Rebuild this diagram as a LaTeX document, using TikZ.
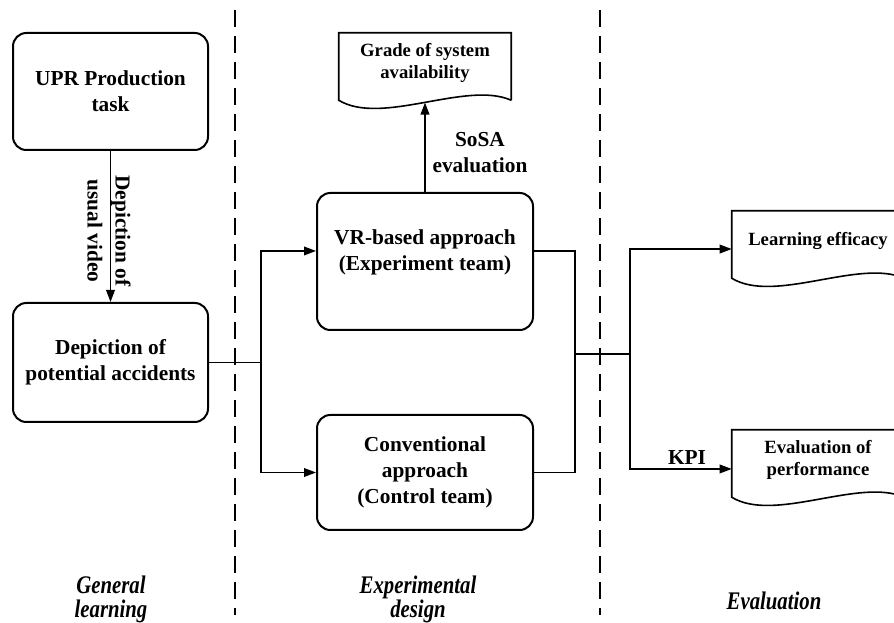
\documentclass[tikz,border=0pt]{standalone}
\usepackage{fontspec}
\setmainfont{Liberation Serif}
\usetikzlibrary{arrows.meta,calc}
\begin{document}
\begin{tikzpicture}[x=0.75pt,y=-0.75pt,
  box/.style={draw,line width=1.5pt,rounded corners=10pt,align=center,
    font=\fontsize{16}{19.5}\selectfont\bfseries,inner sep=0pt},
  conn/.style={line width=1.1pt},
  arr/.style={conn,-{Triangle[length=9pt,width=6.5pt]}},
  doc/.style={inner sep=0pt,minimum width=129pt,minimum height=50.25pt},
  docline/.style={line width=1.2pt},
  doctext/.style={align=center,font=\fontsize{14}{16.5}\selectfont\bfseries},
  lbl/.style={align=center,font=\fontsize{16}{19}\selectfont\bfseries},
  phase/.style={align=center,font=\fontsize{19}{18}\selectfont\bfseries\itshape},
  sep/.style={line width=1.5pt,dash pattern=on 12.75pt off 6.75pt}
]
\useasboundingbox (0,0) rectangle (894,623);
\clip (0,0) rectangle (894,623);

% separators
\draw[sep] (235,10) -- (235,615);
\draw[sep] (600,10) -- (600,615);

% boxes
\node[box,minimum width=146.25pt,minimum height=87.75pt] (upr) at (110.5,91.5) {UPR Production\\task};
\node[box,minimum width=146.25pt,minimum height=89.25pt] (dep) at (110.5,362.5) {Depiction of\\potential accidents};
\node[box,minimum width=162pt,minimum height=102.75pt] (vr) at (425,261.5) {};
\node[lbl,font=\fontsize{16}{19.5}\selectfont\bfseries] (vrt) at ([yshift=6.75pt]vr.center) {VR-based approach\\(Experiment team)};
\node[box,minimum width=162pt,minimum height=86.25pt] (conv) at (425,472.5) {Conventional\\approach\\(Control team)};

% documents
\node[doc] (grade) at (425,66.5) {};
\draw[docline] (grade.south east) -- (grade.north east) -- (grade.north west) -- (grade.south west)
  .. controls +(43,26) and +(-45,-20) .. (grade.south east);
\node[doctext] (gradet) at ([yshift=3pt]grade.center) {Grade of system\\availability};

\node[doc] (learn) at (818,244.5) {};
\draw[docline] (learn.south east) -- (learn.north east) -- (learn.north west) -- (learn.south west)
  .. controls +(43,26) and +(-45,-20) .. (learn.south east);
\node[doctext] (learnt) at ([yshift=3pt]learn.center) {Learning efficacy};

\node[doc] (eval) at (818,463.5) {};
\draw[docline] (eval.south east) -- (eval.north east) -- (eval.north west) -- (eval.south west)
  .. controls +(43,26) and +(-45,-20) .. (eval.south east);
\node[doctext] (evalt) at ([yshift=3pt]eval.center) {Evaluation of\\performance};

% connectors
\draw[arr] (upr) -- (dep);
\node[lbl,rotate=-90] (usual) at (109,231) {Depiction of\\[2pt]usual video};

\coordinate (split) at (261,362.5);
\draw[conn] (dep.east) -- (split);
\draw[arr] (split) |- ([yshift=7.9pt]vr.west);
\draw[arr] (split) |- (conv.west);

\draw[arr] (vr.north) -- ([yshift=-1.7pt]grade.south);
\node[lbl] (sosa) at (480,152.5) {SoSA\\evaluation};

\coordinate (merge) at (575,354);
\draw[conn] ([yshift=7.9pt]vr.east) -| (merge);
\draw[conn] (conv.east) -| (merge);
\coordinate (split2) at (630,354);
\draw[conn] (merge) -- (split2);
\draw[arr] (split2) |- ([yshift=-3.4pt]learn.west);
\draw[arr] (split2) |- ([yshift=-4.1pt]eval.west);
\node[lbl] (kpi) at (687,458) {KPI};

% phase labels
\node[phase] (ph1) at (111,599) {\scalebox{0.82}[1]{General}\\\scalebox{0.82}[1]{learning}};
\node[phase] (ph2) at (418,599) {\scalebox{0.82}[1]{Experimental}\\\scalebox{0.82}[1]{design}};
\node[phase] (ph3) at (774,601) {\scalebox{0.82}[1]{Evaluation}};
\end{tikzpicture}
\end{document}
